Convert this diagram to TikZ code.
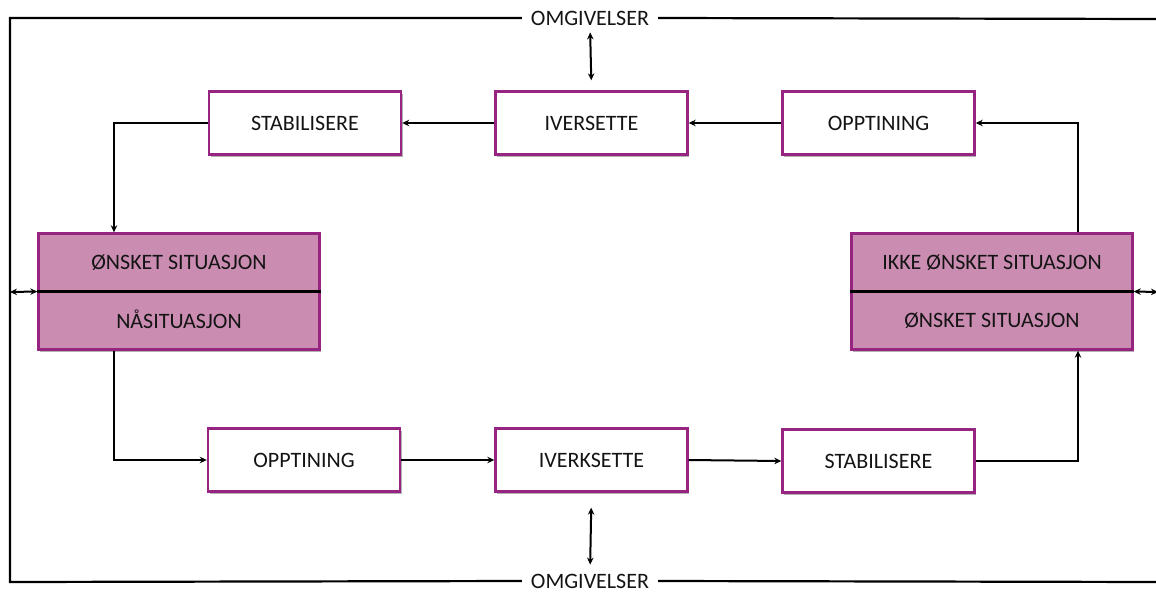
\documentclass[tikz,border=0pt]{standalone}
\usepackage{fontspec}
\setmainfont{Carlito}
\usetikzlibrary{arrows.meta,shadows}
\definecolor{boxline}{RGB}{150,36,128}
\definecolor{boxfill}{RGB}{203,140,178}
\definecolor{ink}{RGB}{20,20,20}
\tikzset{
  lbl/.style={font=\fontsize{22}{26}\selectfont, text=ink},
  stepbox/.style={draw=boxline, line width=2.4pt, fill=white, minimum width=192pt,
    minimum height=63pt, inner sep=0pt, lbl,
    drop shadow={shadow xshift=1.5pt, shadow yshift=-2.5pt, opacity=0.3, fill=black}},
  statebox/.style={draw=boxline, line width=2.4pt, fill=boxfill, minimum width=281pt,
    minimum height=116pt, inner sep=0pt,
    drop shadow={shadow xshift=1.5pt, shadow yshift=-2.5pt, opacity=0.3, fill=black}},
  envlbl/.style={font=\fontsize{22}{26}\selectfont, text=ink, inner xsep=9pt, inner ysep=0pt},
  conn/.style={line width=2pt, draw=black},
  arr/.style={conn, -{Stealth[length=7pt,width=6.5pt]}},
  darr/.style={conn, {Stealth[length=7pt,width=6.5pt]}-{Stealth[length=7pt,width=6.5pt]}},
}
\begin{document}
\begin{tikzpicture}[x=1pt,y=-1pt]
\useasboundingbox (0,0) rectangle (1156,592);

% environment labels
\node[envlbl] (omT) at (590,18) {OMGIVELSER};
\node[envlbl] (omB) at (590,581) {OMGIVELSER};

% frame corners
\coordinate (tl) at (10,18);
\coordinate (bl) at (10,582);
\coordinate (tr) at (1162,19);
\coordinate (br) at (1162,582);
\coordinate (lside) at (10,292);
\coordinate (rside) at (1158,292);

% outer frame
\draw[line width=2.2pt] (omT.west) -- (tl) -- (bl) -- (omB.west);
\draw[line width=2.2pt] (omT.east) -- (tr) -- (br) -- (omB.east);

% upper row
\node[stepbox] (stabT) at (305,123) {STABILISERE};
\node[stepbox] (ivT)   at (591.5,123) {IVERSETTE};
\node[stepbox] (oppT)  at (878.5,123) {OPPTINING};

% lower row
\node[stepbox] (oppB)  at (304,460) {OPPTINING};
\node[stepbox] (ivB)   at (591.5,460) {IVERKSETTE};
\node[stepbox] (stabB) at (878.5,461) {STABILISERE};

% state boxes
\node[statebox] (lp) at (179,291.5) {};
\draw[line width=2.2pt] (lp.west) -- (lp.east);
\node[lbl] (lpa) at (179,263) {ØNSKET SITUASJON};
\node[lbl] (lpb) at (179,319) {NÅSITUASJON};

\node[statebox] (rp) at (992,291.5) {};
\draw[line width=2.2pt] (rp.west) -- (rp.east);
\node[lbl] (rpa) at (992,263) {IKKE ØNSKET SITUASJON};
\node[lbl] (rpb) at (992,321) {ØNSKET SITUASJON};

% upper flow (right to left)
\draw[arr] ([xshift=86pt]rp.north) |- (oppT.east);
\draw[arr] (oppT.west) -- (ivT.east);
\draw[arr] (ivT.west) -- (stabT.east);
\draw[arr] (stabT.west) -| ([xshift=-65pt]lp.north);

% lower flow (left to right)
\draw[arr] ([xshift=-65pt]lp.south) |- (oppB.west);
\draw[arr] (oppB.east) -- (ivB.west);
\draw[arr] (ivB.east) -- (stabB.west);
\draw[arr] (stabB.east) -| ([xshift=86pt]rp.south);

% exchange with the environment
\draw[darr, shorten <=7pt, shorten >=10pt] (omT.south) -- (ivT.north);
\draw[darr, shorten <=15pt, shorten >=9pt] (ivB.south) -- (omB.north);
\draw[darr] (lside) -- (lp.west);
\draw[darr] (rp.east) -- (rside);
\end{tikzpicture}
\end{document}
